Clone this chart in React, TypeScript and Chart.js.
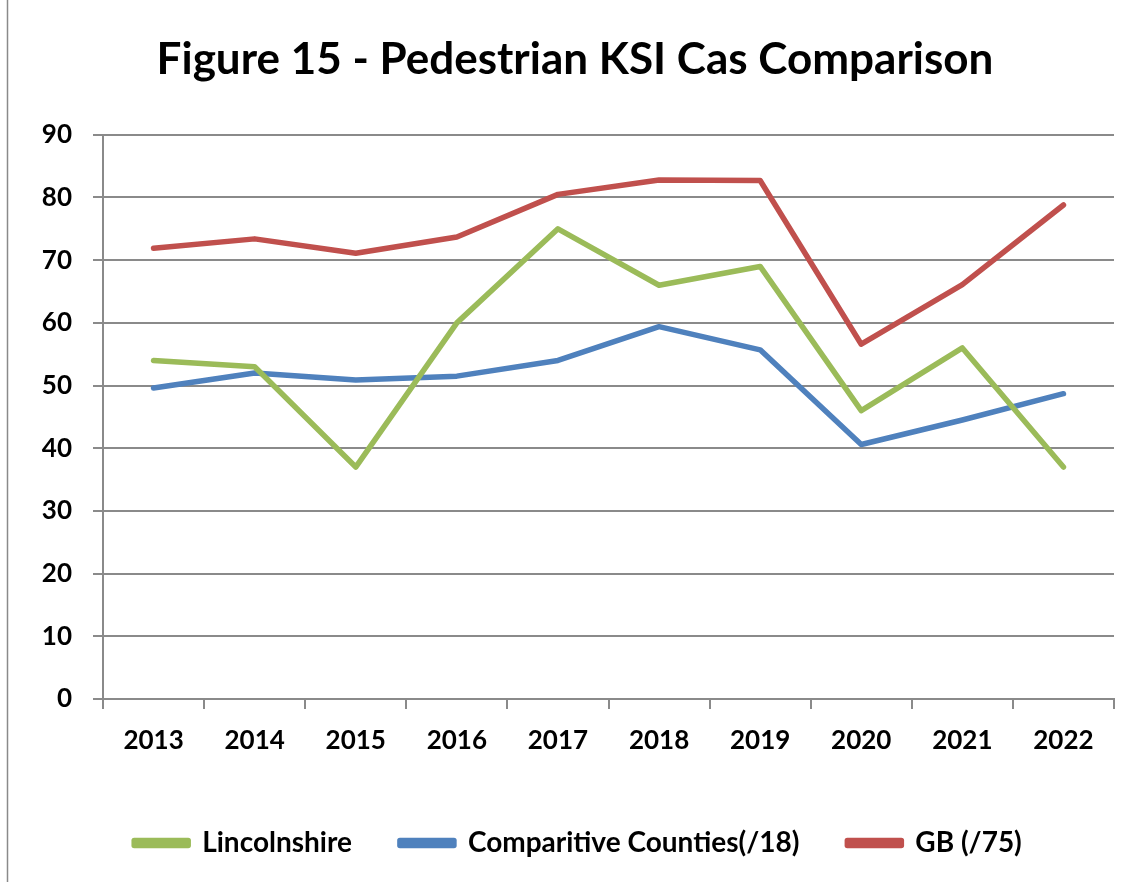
import React, { useEffect, useRef } from "react";
import { Chart, registerables } from "chart.js";

Chart.register(...registerables);

const years = ["2013", "2014", "2015", "2016", "2017", "2018", "2019", "2020", "2021", "2022"];
const lincolnshire = [54, 53, 37, 60, 75, 66, 69, 46, 56, 37];
const comparitiveCounties = [49.6, 52, 50.9, 51.5, 54, 59.4, 55.7, 40.6, 44.5, 48.7];
const gb = [71.9, 73.4, 71.1, 73.7, 80.5, 82.8, 82.7, 56.6, 66.1, 78.8];
const yTicks = [0, 10, 20, 30, 40, 50, 60, 70, 80, 90];

const FONT = "Lato, 'Open Sans', sans-serif";
const GRID = "#8a8a8a";

function shiftDraw(box: any, dx: number) {
  if (!box) return;
  const orig = box.draw;
  box.draw = function (...args: any[]) {
    const ctx = this.ctx;
    ctx.save();
    ctx.translate(dx, 0);
    orig.apply(this, args);
    ctx.restore();
  };
}

const frame = {
  id: "frame",
  beforeInit(chart: any) {
    const lg = chart.legend;
    if (lg) {
      const orig = lg.fit;
      lg.fit = function () {
        orig.call(this);
        this.height = 101;
      };
      shiftDraw(lg, 21);
    }
    shiftDraw(chart.titleBlock, 18);
  },
  beforeDraw(chart: any) {
    const { ctx, width, height } = chart;
    ctx.save();
    ctx.fillStyle = "#ffffff";
    ctx.fillRect(0, 0, width, height);
    ctx.strokeStyle = GRID;
    ctx.lineWidth = 1.5;
    ctx.beginPath();
    ctx.moveTo(7.5, 0);
    ctx.lineTo(7.5, height);
    ctx.stroke();
    ctx.restore();
  },
};

export default function App() {
  const ref = useRef<HTMLCanvasElement | null>(null);
  useEffect(() => {
    if (!ref.current) return;
    const chart = new Chart(ref.current, {
      type: "line",
      data: {
        labels: years,
        datasets: [
          { label: "Lincolnshire", data: lincolnshire, borderColor: "#9BBB59", backgroundColor: "#9BBB59" },
          { label: "Comparitive Counties(/18)", data: comparitiveCounties, borderColor: "#4F81BD", backgroundColor: "#4F81BD" },
          { label: "GB (/75)", data: gb, borderColor: "#C0504D", backgroundColor: "#C0504D" },
        ].map((d) => ({ ...d, borderWidth: 5.5, pointRadius: 0, tension: 0, fill: false, borderCapStyle: "round" as const, borderJoinStyle: "round" as const })),
      },
      options: {
        responsive: false,
        animation: false,
        layout: { padding: { left: 0, right: 19, top: 0, bottom: 0 } },
        plugins: {
          title: {
            display: true,
            text: "Figure 15 - Pedestrian KSI Cas Comparison",
            color: "#000",
            font: { family: FONT, size: 44, weight: "bold" },
            padding: { top: 33, bottom: 49 },
          },
          legend: {
            position: "bottom",
            labels: {
              color: "#000",
              font: { family: FONT, size: 28, weight: "bold" },
              boxWidth: 54,
              boxHeight: 5,
              padding: 48,
            },
          },
          tooltip: { enabled: false },
        },
        scales: {
          x: {
            offset: true,
            grid: { display: true, drawOnChartArea: false, drawTicks: true, tickLength: 10, color: GRID, lineWidth: 2, offset: true },
            border: { display: true, color: GRID, width: 2 },
            ticks: { color: "#000", font: { family: FONT, size: 26, weight: "bold" }, padding: 16, maxRotation: 0 },
            afterFit: (s: any) => {
              s.height = 82;
            },
          },
          y: {
            min: 0,
            max: 90,
            afterBuildTicks: (s: any) => {
              s.ticks = yTicks.map((v) => ({ value: v }));
            },
            grid: { color: GRID, lineWidth: 2, drawTicks: true, tickLength: 10 },
            border: { display: true, color: GRID, width: 2 },
            ticks: { color: "#000", font: { family: FONT, size: 26, weight: "bold" }, padding: 21 },
            afterFit: (s: any) => {
              s.width = 103;
            },
          },
        },
      },
      plugins: [frame],
    });
    return () => chart.destroy();
  }, []);
  return (
    <div style={{ position: "absolute", left: 0, top: 0, width: 1133, height: 882 }}>
      <canvas ref={ref} width={1133} height={882} />
    </div>
  );
}
